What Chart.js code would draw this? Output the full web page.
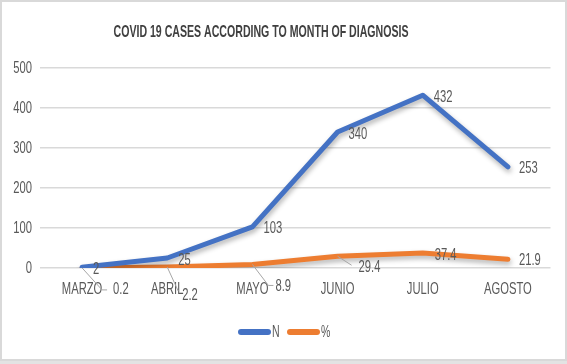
<!DOCTYPE html>
<html lang="en">
  <head>
    <meta charset="UTF-8" />
    <title>Covid 19 cases</title>
    <style>
      body { margin: 0; background: #e3e3e3; }
      #box {
        position: absolute; left: 0; top: 0;
        width: 563px; height: 357px;
        border: 2px solid #d9d9d9; background: #fff;
      }
    </style>
  </head>
  <body>
    <div id="box"><canvas id="myChart" width="563" height="357"></canvas></div>
    <script src="https://cdn.jsdelivr.net/npm/chart.js"></script>
    <script>
      const months = ['MARZO', 'ABRIL', 'MAYO', 'JUNIO', 'JULIO', 'AGOSTO'];
      const casesN = [2, 25, 103, 340, 432, 253];
      const casesPct = [0.2, 2.2, 8.9, 29.4, 37.4, 21.9];
      const pctLabels = ['0.2', '2.2', '8.9', '29.4', '37.4', '21.9'];
      const yTicks = [0, 100, 200, 300, 400, 500];

      const textGray = '#595959';
      const squeeze = 0.66;

      // where the % labels sit relative to their point, plus leader line ends
      const pctPlace = [
        { dx: 31, dy: 21, lead: [[20, 22], [25, 22]] },
        { dx: 15, dy: 28, lead: [[11, 24]] },
        { dx: 23, dy: 22, lead: [[16, 21], [21, 21]] },
        { dx: 21, dy: 11, lead: [[14, 9]] },
        { dx: 12, dy: 2, lead: null },
        { dx: 11, dy: 1, lead: null }
      ];

      // no Arial Narrow here, so squeeze Liberation Sans sideways
      function drawNarrow(ctx, text, x, y, align, font, sx) {
        ctx.save();
        ctx.font = font;
        ctx.textBaseline = 'middle';
        ctx.textAlign = align;
        ctx.translate(x, y);
        ctx.scale(sx, 1);
        ctx.fillText(text, 0, 0);
        ctx.restore();
      }

      const shadowPlugin = {
        id: 'shadow',
        beforeDatasetDraw(chart) {
          const ctx = chart.ctx;
          ctx.save();
          ctx.shadowColor = 'rgba(0,0,0,0.3)';
          ctx.shadowBlur = 5;
          ctx.shadowOffsetX = 1;
          ctx.shadowOffsetY = 3;
        },
        afterDatasetDraw(chart) {
          chart.ctx.restore();
        }
      };

      const labelsPlugin = {
        id: 'labels',
        afterDraw(chart) {
          const ctx = chart.ctx;
          const xs = chart.scales.x, ys = chart.scales.y;
          const f = '17px "Liberation Sans", Arial, sans-serif';
          ctx.save();
          ctx.fillStyle = textGray;

          // axis labels
          yTicks.forEach(v => drawNarrow(ctx, String(v), 30, ys.getPixelForValue(v), 'right', f, squeeze));
          months.forEach((m, i) => drawNarrow(ctx, m, xs.getPixelForValue(i), 287, 'center', f, squeeze));

          // value labels
          chart.getDatasetMeta(0).data.forEach((p, i) => {
            drawNarrow(ctx, String(casesN[i]), p.x + 11, p.y + 2, 'left', f, squeeze);
          });
          chart.getDatasetMeta(1).data.forEach((p, i) => {
            const pl = pctPlace[i];
            if (pl.lead) {
              ctx.strokeStyle = '#a6a6a6';
              ctx.lineWidth = 1;
              ctx.beginPath();
              ctx.moveTo(p.x, p.y);
              pl.lead.forEach(q => ctx.lineTo(p.x + q[0], p.y + q[1]));
              ctx.stroke();
            }
            drawNarrow(ctx, pctLabels[i], p.x + pl.dx, p.y + pl.dy, 'left', f, squeeze);
          });

          // title, squeezed to the reference width
          const title = 'COVID 19 CASES ACCORDING TO MONTH OF DIAGNOSIS';
          const tf = 'bold 17px "Liberation Sans", Arial, sans-serif';
          ctx.font = tf;
          const tw = ctx.measureText(title).width;
          ctx.fillStyle = '#404040';
          drawNarrow(ctx, title, 259, 30, 'center', tf, 295 / tw);

          // legend
          const items = [['N', '#4472C4', 237], ['%', '#ED7D31', 286]];
          ctx.lineCap = 'round';
          items.forEach(it => {
            ctx.strokeStyle = it[1];
            ctx.lineWidth = 6;
            ctx.beginPath();
            ctx.moveTo(it[2] + 2, 330);
            ctx.lineTo(it[2] + 29, 330);
            ctx.stroke();
            ctx.fillStyle = textGray;
            drawNarrow(ctx, it[0], it[2] + 33, 331, 'left', '16px "Liberation Sans", Arial, sans-serif', squeeze);
          });
          ctx.restore();
        }
      };

      new Chart(document.getElementById('myChart').getContext('2d'), {
        type: 'line',
        data: {
          labels: months,
          datasets: [
            { label: 'N', data: casesN, borderColor: '#4472C4', backgroundColor: '#4472C4' },
            { label: '%', data: casesPct, borderColor: '#ED7D31', backgroundColor: '#ED7D31' }
          ]
        },
        options: {
          responsive: false,
          animation: false,
          layout: { padding: { top: 66, right: 14.5, left: 0, bottom: 0 } },
          elements: {
            line: { borderWidth: 5, tension: 0, borderCapStyle: 'round', borderJoinStyle: 'round' },
            point: { radius: 0 }
          },
          plugins: { legend: { display: false }, title: { display: false }, tooltip: { enabled: false } },
          scales: {
            x: {
              offset: true,
              grid: { display: false, drawTicks: false },
              border: { display: false },
              ticks: { display: false },
              afterFit(s) { s.height = 91; }
            },
            y: {
              min: 0, max: 500,
              afterBuildTicks(s) { s.ticks = yTicks.map(v => ({ value: v })); },
              grid: { color: '#d9d9d9', lineWidth: 1.5, drawTicks: false },
              border: { display: false },
              ticks: { display: false },
              afterFit(s) { s.width = 37.5; }
            }
          }
        },
        plugins: [shadowPlugin, labelsPlugin]
      });
    </script>
  </body>
</html>
